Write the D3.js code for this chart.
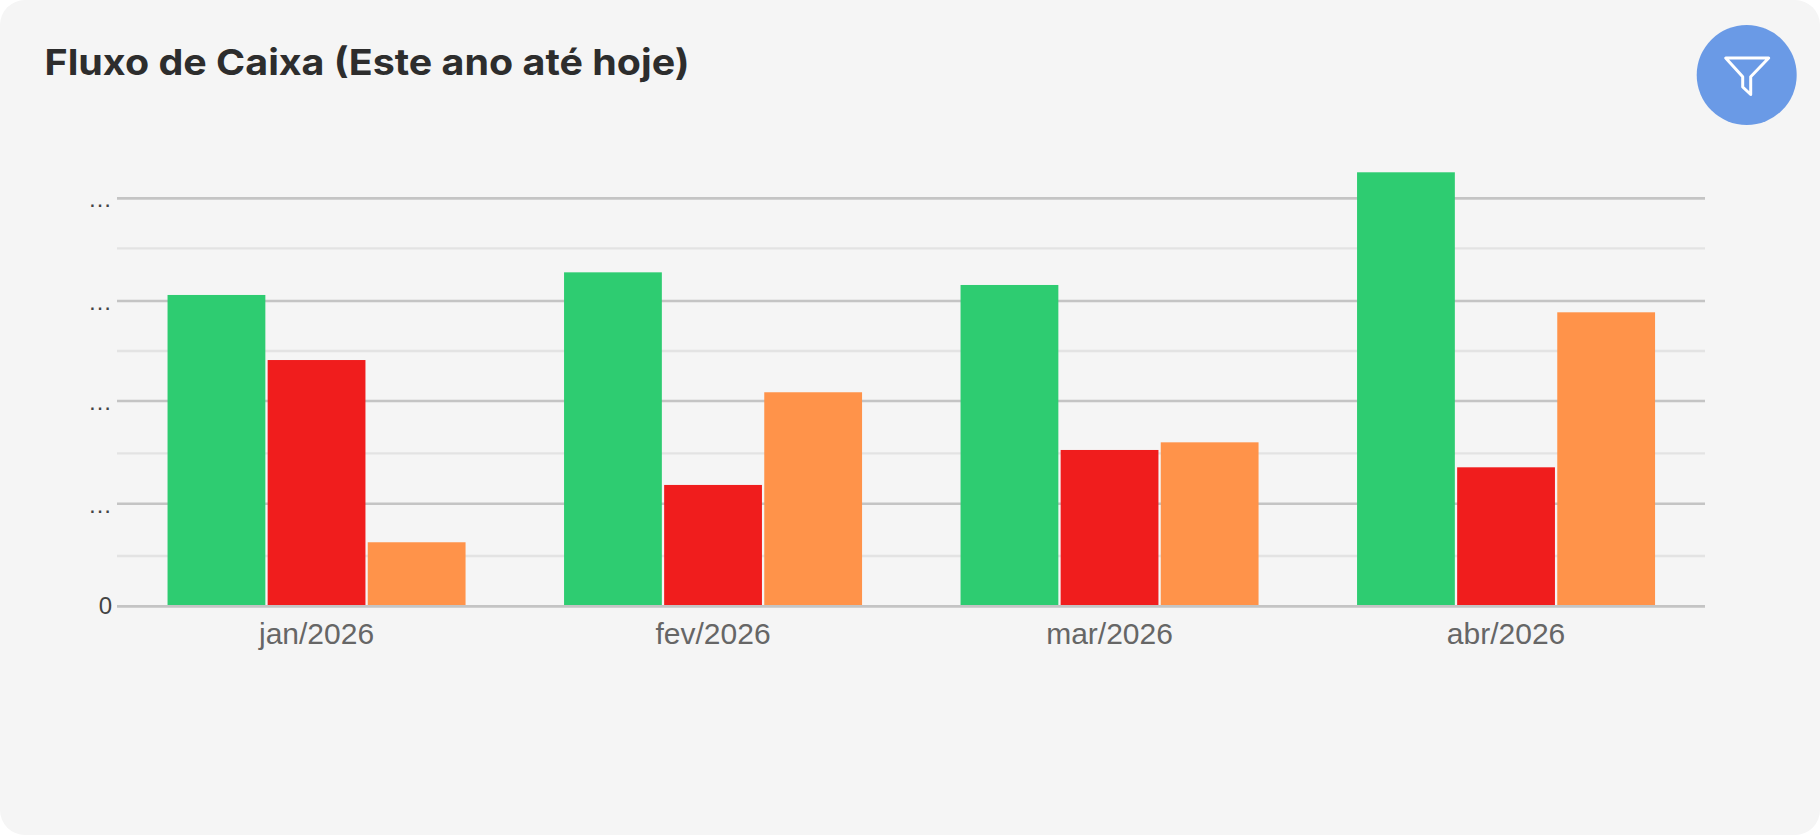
<!DOCTYPE html>
<html lang="pt-BR">
<head>
<meta charset="utf-8">
<title>Fluxo de Caixa</title>
<script src="https://cdn.jsdelivr.net/npm/d3@7/dist/d3.min.js"></script>
<style>
  html, body { margin: 0; padding: 0; background: #ffffff; overflow: hidden; }
  svg { display: block; }
  text { font-family: "Liberation Sans", Arial, sans-serif; }
  .title { font-family: Inter, "Noto Sans", sans-serif; font-weight: 700; }
</style>
</head>
<body>
<svg id="chart" width="1820" height="835"></svg>
<script>
// Cash-flow summary: monthly inflow, outflow and balance, year to date.
const titleText = "Fluxo de Caixa (Este ano até hoje)";
const months = ["jan/2026", "fev/2026", "mar/2026", "abr/2026"];
const entradas = [3053, 3275, 3151, 4256];
const saidas = [2415, 1190, 1533, 1363];
const saldo = [628, 2099, 1608, 2883];
const seriesNames = ["entradas", "saidas", "saldo"];
const seriesColors = ["#2ecc71", "#f01d1d", "#ff934a"];
const majorTicks = [0, 1006, 2013, 2994, 4000];
const minorTicks = [493, 1500, 2504, 3510];
const zeroLabel = "0";
const hiddenLabel = "…";

const svg = d3.select("#chart");

// Card background
svg.append("rect")
  .attr("width", 1820).attr("height", 835)
  .attr("rx", 25).attr("ry", 25)
  .attr("fill", "#f5f5f5");

svg.append("text")
  .attr("class", "title")
  .attr("x", 44.5).attr("y", 75)
  .attr("font-size", 36)
  .attr("fill", "#2d2d2d")
  .attr("textLength", 645)
  .attr("lengthAdjust", "spacingAndGlyphs")
  .text(titleText);

// Filter button
const button = svg.append("g");
button.append("circle")
  .attr("cx", 1746.7).attr("cy", 75).attr("r", 50)
  .attr("fill", "#6a9ae6");
button.append("path")
  .attr("d", "M1725.7 58H1768.7L1750.7 76.7V94.5L1742.7 87V76.7Z")
  .attr("fill", "none")
  .attr("stroke", "#ffffff")
  .attr("stroke-width", 3)
  .attr("stroke-linejoin", "round");

// Scales
const plot = { left: 117, right: 1705, top: 198.4, bottom: 606.3 };
const y = d3.scaleLinear().domain([0, 4000]).range([plot.bottom, plot.top]);
const x = d3.scaleBand().domain(months).range([118.3, 1704.3])
  .paddingInner(0.2484).paddingOuter(0.1242);
const xInner = d3.scaleBand().domain(seriesNames).range([0, x.bandwidth()])
  .paddingInner(0.023);

// Gridlines: minor below major
const gridWidth = plot.right - plot.left;
svg.append("g")
  .attr("transform", `translate(${plot.left},0)`)
  .call(d3.axisLeft(y).offset(0).tickValues(minorTicks).tickSize(-gridWidth).tickFormat(""))
  .call(g => g.select(".domain").remove())
  .call(g => g.selectAll(".tick line").attr("stroke", "#e3e3e3").attr("stroke-width", 2.4));

const yAxis = svg.append("g")
  .attr("transform", `translate(${plot.left},0)`)
  .call(d3.axisLeft(y).offset(0).tickValues(majorTicks).tickSize(-gridWidth)
    .tickPadding(5)
    .tickFormat(d => d === 0 ? zeroLabel : hiddenLabel))
  .call(g => g.select(".domain").remove())
  .call(g => g.selectAll(".tick line").attr("stroke", "#c4c4c4").attr("stroke-width", 2.6));
yAxis.selectAll(".tick text")
  .attr("font-family", "Liberation Sans, Arial, sans-serif")
  .attr("font-size", 24)
  .attr("fill", "#444444")
  .attr("dy", d => d === 0 ? 8 : 9);

// Bars
const groups = svg.append("g").selectAll("g")
  .data(months)
  .join("g")
  .attr("transform", d => `translate(${x(d)},0)`);
const seriesValues = { entradas, saidas, saldo };
seriesNames.forEach((name, s) => {
  groups.append("rect")
    .datum((_, i) => seriesValues[name][i])
    .attr("x", xInner(name))
    .attr("width", xInner.bandwidth())
    .attr("y", d => y(d))
    .attr("height", d => y(0) - y(d))
    .attr("fill", seriesColors[s]);
});

// Baseline sits over the bar feet
svg.append("line")
  .attr("x1", plot.left).attr("x2", plot.right)
  .attr("y1", y(0)).attr("y2", y(0))
  .attr("stroke", "#c4c4c4").attr("stroke-width", 2.6);

// Month labels
const xAxis = svg.append("g")
  .attr("transform", `translate(0,${plot.bottom})`)
  .call(d3.axisBottom(x).offset(0).tickSize(0).tickPadding(0))
  .call(g => g.select(".domain").remove());
xAxis.selectAll(".tick text")
  .attr("font-family", "Liberation Sans, Arial, sans-serif")
  .attr("font-size", 30)
  .attr("fill", "#666666")
  .attr("y", 37.5)
  .attr("dy", 0);
</script>
</body>
</html>
